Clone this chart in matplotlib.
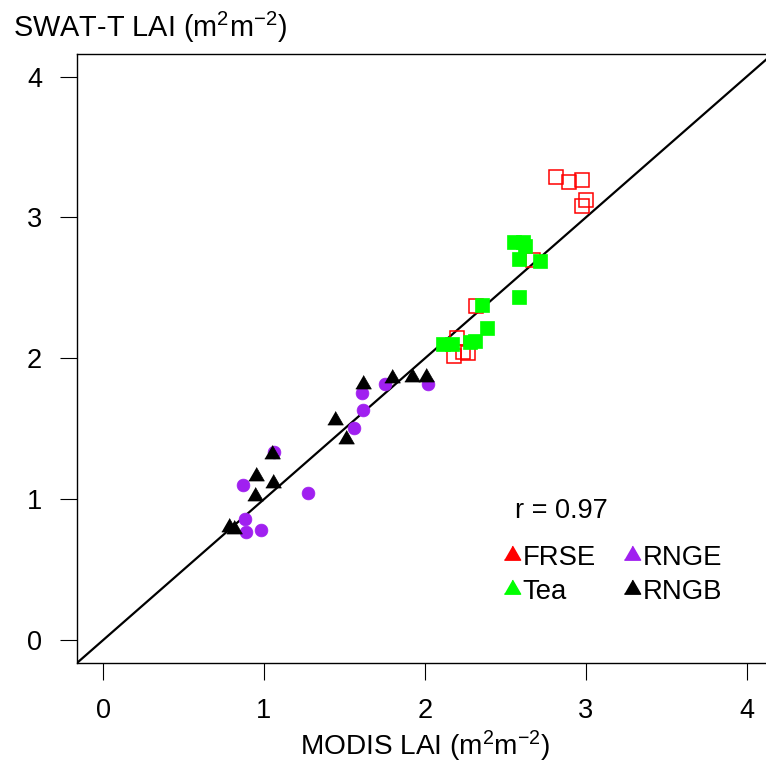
import matplotlib
matplotlib.use('Agg')
import matplotlib.pyplot as plt
from matplotlib.lines import Line2D

plt.rcParams['font.family'] = ['Liberation Sans', 'DejaVu Sans']
plt.rcParams['mathtext.fontset'] = 'custom'
plt.rcParams['mathtext.rm'] = 'Liberation Sans'
plt.rcParams['mathtext.it'] = 'Liberation Sans'

# MODIS (x) vs SWAT-T (y) LAI
frse_x = [2.816, 2.897, 2.978, 3.003, 2.978, 2.674, 2.320, 2.202, 2.183, 2.239, 2.270]
frse_y = [3.284, 3.255, 3.269, 3.127, 3.078, 2.696, 2.370, 2.143, 2.016, 2.044, 2.037]

tea_x = [2.556, 2.611, 2.624, 2.586, 2.717, 2.586, 2.357, 2.388, 2.115, 2.171, 2.283, 2.314]
tea_y = [2.824, 2.824, 2.795, 2.703, 2.689, 2.435, 2.378, 2.215, 2.102, 2.102, 2.116, 2.123]

rnge_x = [1.060, 0.867, 1.271, 0.880, 0.886, 0.979, 1.612, 1.618, 1.562, 1.749, 2.022]
rnge_y = [1.336, 1.102, 1.045, 0.861, 0.769, 0.783, 1.754, 1.633, 1.506, 1.817, 1.817]

rngb_x = [1.047, 0.948, 1.053, 0.942, 0.781, 0.811, 1.618, 1.444, 1.512, 1.798, 1.922, 2.009]
rngb_y = [1.322, 1.166, 1.117, 1.025, 0.805, 0.791, 1.817, 1.563, 1.428, 1.860, 1.867, 1.867]

ticks = [0, 1, 2, 3, 4]
r_text = 'r = 0.97'

W, H = 766, 765
fig = plt.figure(figsize=(W / 100, H / 100), dpi=100)

# plot region in pixels (right edge falls just outside the image)
left, right, top, bottom = 77.3, 772.5, 54.0, 662.7
ax = fig.add_axes([left / W, (H - bottom) / H, (right - left) / W, (bottom - top) / H])

tri = [(-1, -0.577), (1, -0.577), (0, 1.155)]

ax.plot([-0.16, 4.16], [-0.16, 4.16], color='black', lw=1.6, zorder=1)
ax.plot(frse_x, frse_y, ls='none', marker='s', ms=9.4, mfc='none', mec='#FF0000', mew=1.1, zorder=2)
ax.plot(tea_x, tea_y, ls='none', marker='s', ms=9.4, mfc='#00FF00', mec='#00FF00', mew=0.5, zorder=3)
ax.plot(rnge_x, rnge_y, ls='none', marker='o', ms=9.2, mfc='#A020F0', mec='#A020F0', mew=0.5, zorder=4)
ax.plot(rngb_x, rngb_y, ls='none', marker=tri, ms=13, mfc='black', mec='black', mew=0.5, zorder=5)

ax.set_xlim(-0.16, 4.16)
ax.set_ylim(-0.16, 4.16)
ax.set_xticks(ticks)
ax.set_yticks(ticks)
ax.tick_params(length=12.5, width=0.8, pad=13, labelsize=19.5, colors='black')
for s in ax.spines.values():
    s.set_linewidth(1.0)

fig.text(12.7 / W, (H - 37) / H, r'SWAT-T LAI (m$^{2}$m$^{-2}$)', fontsize=20.8, ha='left', va='baseline')
fig.text(((left + right) / 2) / W, (H - 755) / H, r'MODIS LAI (m$^{2}$m$^{-2}$)', fontsize=20.2, ha='center', va='baseline')

fig.text(515 / W, (H - 511) / H, r_text, fontsize=19.5, ha='left', va='center')

handles = [Line2D([], [], ls='none', marker=tri, ms=13.5, color=c)
           for c in ['#FF0000', '#00FF00', '#A020F0', 'black']]
labels = ['FRSE', 'Tea', 'RNGE', 'RNGB']
fig.legend(handles, labels, ncol=2, frameon=False, fontsize=19.8,
           loc='upper left', bbox_to_anchor=(505 / W, (H - 545) / H),
           borderaxespad=0, borderpad=0, handlelength=0.5, handletextpad=0.14,
           columnspacing=1.08, labelspacing=0.28)

fig.savefig('out.png', dpi=100)
